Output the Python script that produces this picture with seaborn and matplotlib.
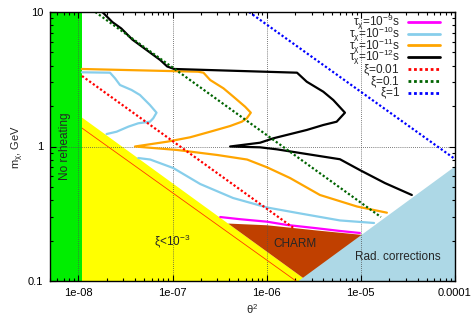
import matplotlib
matplotlib.use("Agg")
import matplotlib.pyplot as plt
from matplotlib.lines import Line2D
from matplotlib.ticker import FixedLocator, FixedFormatter, NullFormatter, LogLocator
import seaborn as sns
import pandas as pd

# ---------------- data (theta^2, m_chi in GeV) ----------------
tau9_theta = [3.21e-7, 5.22e-7, 1.01e-6, 1.64e-6, 3.42e-6, 6.0e-6, 9.77e-6]
tau9_m = [0.299, 0.288, 0.276, 0.261, 0.2466, 0.2355, 0.2275]

tau10_up_theta = [1.089e-8, 2.169e-8, 2.451e-8, 2.768e-8, 3.675e-8, 4.512e-8, 5.757e-8,
                  6.765e-8, 6.243e-8, 5.757e-8, 4.328e-8, 3.391e-8, 2.548e-8, 1.995e-8]
tau10_up_m = [3.562, 3.538, 3.215, 2.866, 2.632, 2.415, 2.035,
              1.784, 1.621, 1.529, 1.488, 1.404, 1.288, 1.238]
tau10_lo_theta = [4.33e-8, 5.80e-8, 1.017e-7, 1.97e-7, 4.40e-7, 1.01e-6, 2.26e-6, 6.00e-6, 1.38e-5]
tau10_lo_m = [0.821, 0.800, 0.692, 0.526, 0.414, 0.352, 0.318, 0.282, 0.270]

tau11_theta = [1.084e-8, 1.873e-7, 2.132e-7, 2.511e-7, 3.474e-7, 4.434e-7, 5.901e-7, 6.785e-7,
               6.152e-7, 5.445e-7, 4.09e-7, 2.511e-7, 1.54e-7, 8.787e-8, 3.993e-8,
               1.121e-7, 2.98e-7, 6.197e-7, 1.01e-6, 1.77e-6, 3.68e-6, 9.10e-6, 1.891e-5]
tau11_m = [3.770, 3.598, 3.538, 3.122, 2.708, 2.346, 1.976, 1.784,
           1.621, 1.529, 1.420, 1.288, 1.171, 1.086, 1.0,
           0.942, 0.865, 0.800, 0.700, 0.583, 0.436, 0.358, 0.322]

tau12_theta = [1.798e-8, 2.294e-8, 2.858e-8, 3.738e-8, 5.391e-8, 7.406e-8, 8.787e-8, 1.042e-7,
               2.101e-6, 2.663e-6, 3.993e-6, 5.098e-6, 6.782e-6, 5.538e-6, 3.993e-6, 2.663e-6,
               1.178e-6, 8.511e-7, 4.09e-7, 8.511e-7, 1.28e-6, 6.0e-6, 9.77e-6, 1.80e-5, 3.48e-5]
tau12_m = [10.0, 8.426, 7.541, 6.245, 5.174, 4.396, 3.934, 3.770,
           3.538, 3.032, 2.555, 2.216, 1.784, 1.529, 1.445, 1.327,
           1.151, 1.067, 1.0, 0.986, 0.953, 0.804, 0.668, 0.535, 0.436]

xi001_theta = [1.094e-8, 2.0e-6]
xi001_m = [3.344, 0.2435]
xi01_theta = [1.514e-8, 1.633e-5]
xi01_m = [10.0, 0.299]
xi1_theta = [6.5e-7, 1e-4]
xi1_m = [10.0, 0.807]
xi0001_theta = [1.094e-8, 2.05e-6]
xi0001_m = [1.37, 0.1]

green_theta = [5e-9, 1.084e-8]
yellow_theta = [1.084e-8, 2.70e-6, 1.084e-8]
yellow_m = [1.649, 0.1, 0.1]
charm_theta = [3.897e-7, 1.01e-6, 3.423e-6, 9.315e-6, 4.233e-5, 4.233e-5, 2.70e-6]
charm_m = [0.2673, 0.2596, 0.2374, 0.2217, 0.2017, 0.1, 0.1]
rad_theta = [2.18e-6, 1e-4, 1e-4]
rad_m = [0.1, 0.710, 0.1]

x_ticks = [1e-8, 1e-7, 1e-6, 1e-5, 1e-4]
x_ticklabels = ["1e-08", "1e-07", "1e-06", "1e-05", "0.0001"]
y_ticks = [0.1, 1, 10]
y_ticklabels = ["0.1", "1", "10"]

legend_labels = [r"$\tau_\chi$=10$^{-9}$s", r"$\tau_\chi$=10$^{-10}$s", r"$\tau_\chi$=10$^{-11}$s",
                 r"$\tau_\chi$=10$^{-12}$s", r"$\xi$=0.01", r"$\xi$=0.1", r"$\xi$=1"]

# ---------------- style ----------------
sns.set_theme(style="ticks")
plt.rcParams["font.family"] = ["Liberation Sans", "DejaVu Sans"]
plt.rcParams["mathtext.fontset"] = "custom"
plt.rcParams["mathtext.rm"] = "Liberation Sans"
plt.rcParams["mathtext.it"] = "Liberation Sans"
plt.rcParams["mathtext.default"] = "regular"

C_MAG = "#ff00ff"
C_SKY = "#87ceeb"
C_ORA = "#ffa500"
C_BLK = "#000000"
C_RED = "#ff0000"
C_DGR = "#006400"
C_BLU = "#0000ff"

W, H = 475, 320
AX_L, AX_R, AX_T, AX_B = 50, 455, 12, 281
fig = plt.figure(figsize=(W/100, H/100), dpi=100)
ax = fig.add_axes([AX_L/W, 1-AX_B/H, (AX_R-AX_L)/W, (AX_B-AX_T)/H])
ax.set_xscale("log")
ax.set_yscale("log")

# ---------------- regions ----------------
ax.fill(yellow_theta, yellow_m, color="#ffff00", lw=0, zorder=1)
ax.fill(charm_theta, charm_m, color="#c04000", lw=0, zorder=1.1)
ax.fill(rad_theta, rad_m, color="#add8e6", lw=0, zorder=1.2)
ax.axvspan(green_theta[0], green_theta[1], color="#00ee00", lw=0, zorder=1.3)

# ---------------- curves ----------------
lw = 1.6
dot = (0, (1, 1))
def draw(xs, ys, color, lw=lw, ls="-"):
    df = pd.DataFrame({"theta": xs, "m": ys})
    sns.lineplot(data=df, x="theta", y="m", sort=False, estimator=None,
                 color=color, lw=lw, linestyle=ls, ax=ax, zorder=3)

draw(xi0001_theta, xi0001_m, "#ff3a00", lw=0.6)
draw(tau9_theta, tau9_m, C_MAG)
draw(tau10_up_theta, tau10_up_m, C_SKY)
draw(tau10_lo_theta, tau10_lo_m, C_SKY)
draw(tau11_theta, tau11_m, C_ORA)
draw(tau12_theta, tau12_m, C_BLK)
draw(xi001_theta, xi001_m, C_RED, ls=dot)
draw(xi01_theta, xi01_m, C_DGR, ls=dot)
draw(xi1_theta, xi1_m, C_BLU, ls=dot)

# ---------------- axes ----------------
ax.set_xlim(5e-9, 1e-4)
ax.set_ylim(0.1, 10)
ax.xaxis.set_major_locator(FixedLocator(x_ticks))
ax.xaxis.set_major_formatter(FixedFormatter(x_ticklabels))
ax.yaxis.set_major_locator(FixedLocator(y_ticks))
ax.yaxis.set_major_formatter(FixedFormatter(y_ticklabels))
ax.xaxis.set_minor_locator(LogLocator(base=10, subs=range(2, 10), numticks=20))
ax.yaxis.set_minor_locator(LogLocator(base=10, subs=range(2, 10), numticks=20))
ax.xaxis.set_minor_formatter(NullFormatter())
ax.yaxis.set_minor_formatter(NullFormatter())
ax.tick_params(which="both", direction="in", top=True, right=True, colors="black",
               labelsize=8, width=0.8)
ax.tick_params(which="major", length=4, pad=5)
ax.tick_params(which="minor", length=2)
ax.set_axisbelow(False)
ax.grid(which="major", color="#505050", lw=0.6, ls=(0, (1, 1.5)))
ax.grid(which="minor", visible=False)
for s in ax.spines.values():
    s.set_color("black")
    s.set_linewidth(1.0)
    s.set_zorder(5)
ax.get_legend() and ax.get_legend().remove()

ax.set_xlabel(r"$\theta^2$", fontsize=8, labelpad=3)
ax.set_ylabel(r"m$_\chi$, GeV", fontsize=8, labelpad=1)

# ---------------- annotations ----------------
ax.text(7.2e-9, 1.0, "No reheating", rotation=90, ha="center", va="center", fontsize=8.5, zorder=4)
ax.text(1.0e-7, 0.198, r"$\xi$<10$^{-3}$", ha="center", va="center", fontsize=8.5, zorder=4)
ax.text(2.0e-6, 0.188, "CHARM", ha="center", va="center", fontsize=8.5, zorder=4)
ax.text(2.47e-5, 0.151, "Rad. corrections", ha="center", va="center", fontsize=8.5, zorder=4)

# ---------------- legend (gnuplot style: right-aligned text, sample on the right) ----------------
leg_styles = [(C_MAG, "-"), (C_SKY, "-"), (C_ORA, "-"), (C_BLK, "-"),
              (C_RED, dot), (C_DGR, dot), (C_BLU, dot)]
def fx(px):
    return (px - AX_L) / (AX_R - AX_L)
def fy(py):
    return (AX_B - py) / (AX_B - AX_T)
row0, drow = 21.7, 11.8
for i, (lab, (col, ls)) in enumerate(zip(legend_labels, leg_styles)):
    yc = row0 + i * drow
    ax.text(fx(400), fy(yc + 4.2), lab, transform=ax.transAxes, ha="right", va="baseline",
            fontsize=8.5, zorder=6)
    ax.add_line(Line2D([fx(408), fx(440)], [fy(yc), fy(yc)], transform=ax.transAxes,
                       color=col, lw=2, ls=ls, zorder=6))

fig.savefig("out.png", dpi=100)
